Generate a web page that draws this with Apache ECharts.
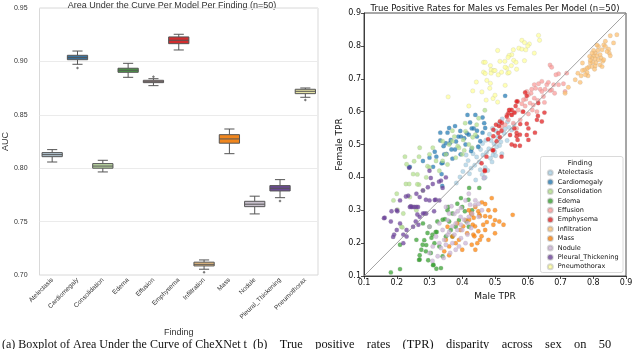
<!DOCTYPE html>
<html><head><meta charset="utf-8">
<script src="https://cdn.jsdelivr.net/npm/echarts@6/dist/echarts.min.js"></script>
<style>html,body{margin:0;padding:0;background:#fff;}#c{width:640px;height:349px;}</style>
</head><body><div id="c"></div>
<script>
// ---------- Left panel: AUC box plot ----------
const findings = ['Atelectasis','Cardiomegaly','Consolidation','Edema','Effusion','Emphysema','Infiltration','Mass','Nodule','Pleural_Thickening','Pneumothorax'];
const aucMin = [0.8058,0.8973,0.7965,0.8851,0.8773,0.9107,0.7054,0.8136,0.7572,0.7724,0.8664];
const aucQ1  = [0.8108,0.9016,0.8000,0.8898,0.8801,0.9166,0.7085,0.8234,0.7640,0.7787,0.8698];
const aucMed = [0.8127,0.9035,0.8020,0.8917,0.8810,0.9198,0.7100,0.8274,0.7663,0.7812,0.8720];
const aucQ3  = [0.8146,0.9057,0.8043,0.8936,0.8823,0.9229,0.7120,0.8314,0.7690,0.7837,0.8739];
const aucMax = [0.8174,0.9097,0.8074,0.8982,0.8838,0.9254,0.7141,0.8367,0.7738,0.7893,0.8751];
const outlierFinding = ['Cardiomegaly','Effusion','Infiltration','Pleural_Thickening','Pneumothorax'];
const outlierAuc = [0.8938,0.8857,0.7026,0.7693,0.8639];
const boxColors = ['#b3c6d2','#3b74a0','#bcd9a3','#4b9a45','#d9a9a8','#d22d2f','#efc283','#f0861e','#c8c0cc','#6b4a92','#e6e4a6'];
const aucTicks = [0.70,0.95,0.05];

// ---------- Right panel: TPR scatter (male TPR, female TPR) ----------
const paired = ['#a6cee3','#1f78b4','#b2df8a','#33a02c','#fb9a99','#e31a1c','#fdbf6f','#ff7f00','#cab2d6','#6a3d9a','#ffff99'];
const tprAtelectasis = [[0.456,0.485],[0.47,0.43],[0.47,0.40],[0.505,0.493],[0.551,0.544],[0.543,0.552],[0.528,0.534],[0.518,0.508],[0.508,0.522],[0.497,0.502],[0.488,0.512],[0.481,0.487],[0.494,0.468],[0.486,0.458],[0.474,0.476],[0.463,0.468],[0.452,0.447],[0.444,0.462],[0.438,0.437],[0.427,0.428],[0.418,0.451],[0.433,0.472],[0.449,0.493],[0.462,0.503],[0.472,0.513],[0.483,0.531],[0.492,0.549],[0.503,0.541],[0.512,0.562],[0.522,0.578],[0.538,0.569],[0.531,0.548],[0.514,0.497],[0.499,0.478],[0.491,0.447],[0.478,0.421],[0.461,0.409],[0.441,0.392],[0.422,0.411],[0.411,0.438],[0.402,0.418],[0.393,0.401],[0.382,0.383],[0.455,0.423],[0.521,0.472],[0.537,0.512],[0.558,0.561],[0.466,0.397],[0.412,0.468],[0.502,0.466]];
const tprCardiomegaly = [[0.416,0.59],[0.44,0.59],[0.462,0.582],[0.378,0.556],[0.424,0.567],[0.435,0.549],[0.467,0.565],[0.445,0.542],[0.414,0.534],[0.394,0.541],[0.333,0.536],[0.355,0.536],[0.396,0.524],[0.406,0.519],[0.462,0.536],[0.365,0.514],[0.333,0.512],[0.381,0.509],[0.35,0.504],[0.531,0.648],[0.388,0.524],[0.429,0.549],[0.445,0.524],[0.449,0.493],[0.429,0.488],[0.362,0.504],[0.378,0.485],[0.352,0.471],[0.321,0.463],[0.337,0.443],[0.311,0.432],[0.24,0.432],[0.337,0.41],[0.339,0.374],[0.343,0.495],[0.367,0.485],[0.345,0.47],[0.37,0.457],[0.34,0.444],[0.427,0.48],[0.238,0.431],[0.316,0.478],[0.41,0.5],[0.395,0.47],[0.455,0.51],[0.3,0.46],[0.28,0.45],[0.42,0.53],[0.36,0.55],[0.47,0.55]];
const tprConsolidation = [[0.253,0.449],[0.294,0.434],[0.263,0.409],[0.228,0.38],[0.238,0.38],[0.268,0.378],[0.202,0.302],[0.217,0.248],[0.386,0.495],[0.406,0.482],[0.355,0.439],[0.268,0.463],[0.403,0.514],[0.444,0.56],[0.225,0.463],[0.39,0.49],[0.469,0.604],[0.409,0.565],[0.37,0.542],[0.432,0.522],[0.376,0.524],[0.263,0.379],[0.214,0.25],[0.3,0.47],[0.32,0.45],[0.31,0.49],[0.35,0.47],[0.36,0.5],[0.38,0.46],[0.33,0.42],[0.29,0.4],[0.25,0.41],[0.28,0.36],[0.2,0.35],[0.23,0.44],[0.42,0.5],[0.44,0.53],[0.41,0.54],[0.45,0.58],[0.34,0.51],[0.27,0.49],[0.3,0.43],[0.24,0.34],[0.19,0.33],[0.34,0.45],[0.26,0.3],[0.22,0.29],[0.4,0.47],[0.37,0.51],[0.43,0.49]];
const tprEdema = [[0.182,0.111],[0.21,0.121],[0.21,0.195],[0.268,0.149],[0.279,0.195],[0.289,0.175],[0.304,0.17],[0.309,0.226],[0.319,0.234],[0.324,0.266],[0.34,0.271],[0.294,0.231],[0.312,0.134],[0.335,0.124],[0.421,0.368],[0.452,0.368],[0.396,0.337],[0.36,0.266],[0.419,0.332],[0.408,0.297],[0.413,0.266],[0.357,0.31],[0.347,0.273],[0.322,0.234],[0.306,0.216],[0.284,0.209],[0.29,0.194],[0.27,0.163],[0.296,0.148],[0.311,0.133],[0.321,0.122],[0.37,0.29],[0.38,0.25],[0.39,0.27],[0.365,0.24],[0.35,0.22],[0.33,0.19],[0.34,0.16],[0.3,0.25],[0.28,0.26],[0.27,0.15],[0.26,0.21],[0.4,0.31],[0.43,0.3],[0.385,0.32],[0.355,0.3],[0.315,0.2],[0.275,0.18],[0.37,0.22],[0.42,0.25]];
const tprEffusion = [[0.719,0.717],[0.668,0.742],[0.673,0.735],[0.694,0.715],[0.686,0.712],[0.709,0.685],[0.679,0.682],[0.658,0.682],[0.653,0.668],[0.673,0.666],[0.682,0.656],[0.668,0.664],[0.633,0.685],[0.62,0.682],[0.624,0.671],[0.638,0.668],[0.643,0.661],[0.612,0.668],[0.61,0.656],[0.602,0.651],[0.597,0.661],[0.594,0.638],[0.62,0.641],[0.631,0.634],[0.651,0.628],[0.648,0.646],[0.607,0.626],[0.617,0.62],[0.592,0.617],[0.582,0.624],[0.571,0.605],[0.584,0.6],[0.614,0.605],[0.628,0.6],[0.602,0.593],[0.551,0.59],[0.561,0.597],[0.541,0.575],[0.556,0.565],[0.577,0.575],[0.566,0.549],[0.531,0.56],[0.52,0.554],[0.714,0.661],[0.694,0.682],[0.663,0.689],[0.643,0.692],[0.587,0.636],[0.546,0.605],[0.536,0.59]];
const tprEmphysema = [[0.569,0.631],[0.563,0.617],[0.559,0.597],[0.592,0.658],[0.597,0.648],[0.541,0.595],[0.543,0.605],[0.631,0.587],[0.643,0.57],[0.651,0.597],[0.597,0.563],[0.602,0.549],[0.622,0.536],[0.577,0.562],[0.569,0.514],[0.515,0.57],[0.512,0.556],[0.52,0.542],[0.602,0.514],[0.546,0.529],[0.515,0.522],[0.559,0.549],[0.566,0.631],[0.551,0.605],[0.536,0.585],[0.551,0.59],[0.521,0.566],[0.503,0.56],[0.495,0.545],[0.51,0.535],[0.495,0.525],[0.479,0.516],[0.505,0.51],[0.566,0.535],[0.576,0.53],[0.597,0.529],[0.566,0.525],[0.551,0.5],[0.561,0.496],[0.576,0.496],[0.495,0.483],[0.52,0.463],[0.474,0.463],[0.459,0.443],[0.469,0.422],[0.628,0.575],[0.632,0.626],[0.493,0.482],[0.469,0.419],[0.586,0.6]];
const tprInfiltration = [[0.852,0.831],[0.872,0.834],[0.862,0.809],[0.832,0.803],[0.837,0.798],[0.847,0.79],[0.827,0.788],[0.814,0.786],[0.806,0.778],[0.801,0.77],[0.811,0.77],[0.821,0.773],[0.796,0.763],[0.806,0.76],[0.816,0.758],[0.824,0.763],[0.798,0.75],[0.808,0.748],[0.791,0.748],[0.829,0.753],[0.849,0.778],[0.852,0.77],[0.786,0.735],[0.796,0.737],[0.806,0.739],[0.781,0.732],[0.773,0.727],[0.767,0.725],[0.763,0.709],[0.784,0.709],[0.76,0.689],[0.724,0.674],[0.714,0.656],[0.821,0.742],[0.832,0.758],[0.842,0.783],[0.791,0.756],[0.781,0.719],[0.776,0.712],[0.816,0.798],[0.801,0.786],[0.827,0.737],[0.767,0.748],[0.753,0.717],[0.745,0.697],[0.811,0.803],[0.789,0.768],[0.804,0.729],[0.837,0.814],[0.796,0.778]];
const tprMass = [[0.49,0.337],[0.47,0.319],[0.449,0.297],[0.429,0.287],[0.454,0.282],[0.47,0.282],[0.513,0.266],[0.495,0.256],[0.475,0.264],[0.464,0.256],[0.439,0.251],[0.403,0.251],[0.449,0.236],[0.434,0.226],[0.459,0.221],[0.446,0.2],[0.454,0.21],[0.429,0.195],[0.526,0.256],[0.5,0.23],[0.554,0.286],[0.452,0.287],[0.427,0.292],[0.421,0.271],[0.432,0.256],[0.437,0.221],[0.345,0.175],[0.36,0.163],[0.38,0.2],[0.435,0.277],[0.46,0.324],[0.48,0.3],[0.5,0.3],[0.485,0.28],[0.41,0.27],[0.395,0.24],[0.385,0.26],[0.37,0.22],[0.35,0.21],[0.36,0.19],[0.355,0.25],[0.415,0.23],[0.44,0.31],[0.42,0.3],[0.47,0.24],[0.48,0.21],[0.5,0.27],[0.39,0.21],[0.44,0.18],[0.4,0.18]];
const tprNodule = [[0.367,0.312],[0.396,0.307],[0.424,0.317],[0.439,0.315],[0.376,0.289],[0.386,0.297],[0.395,0.28],[0.406,0.271],[0.416,0.261],[0.37,0.251],[0.36,0.234],[0.376,0.226],[0.345,0.21],[0.33,0.2],[0.35,0.195],[0.335,0.185],[0.427,0.246],[0.396,0.256],[0.416,0.226],[0.396,0.215],[0.343,0.155],[0.363,0.17],[0.309,0.146],[0.467,0.399],[0.44,0.33],[0.45,0.32],[0.41,0.33],[0.38,0.26],[0.355,0.27],[0.34,0.24],[0.32,0.22],[0.31,0.19],[0.3,0.17],[0.325,0.16],[0.385,0.24],[0.4,0.24],[0.37,0.2],[0.355,0.225],[0.39,0.19],[0.41,0.2],[0.43,0.29],[0.42,0.28],[0.46,0.3],[0.45,0.28],[0.36,0.29],[0.35,0.31],[0.33,0.26],[0.3,0.25],[0.38,0.18],[0.42,0.35]];
const tprPleural = [[0.238,0.429],[0.304,0.398],[0.34,0.368],[0.319,0.332],[0.289,0.332],[0.228,0.342],[0.243,0.312],[0.263,0.287],[0.258,0.266],[0.266,0.256],[0.202,0.297],[0.182,0.266],[0.161,0.276],[0.192,0.226],[0.22,0.226],[0.314,0.297],[0.329,0.387],[0.235,0.344],[0.316,0.331],[0.24,0.31],[0.163,0.277],[0.189,0.219],[0.184,0.297],[0.33,0.33],[0.3,0.33],[0.25,0.31],[0.255,0.31],[0.26,0.31],[0.265,0.31],[0.245,0.31],[0.29,0.29],[0.285,0.29],[0.28,0.29],[0.27,0.28],[0.25,0.25],[0.23,0.24],[0.21,0.26],[0.2,0.3],[0.27,0.34],[0.31,0.38],[0.335,0.39],[0.35,0.4],[0.28,0.36],[0.21,0.33],[0.23,0.22],[0.22,0.2],[0.3,0.42],[0.26,0.35],[0.295,0.37],[0.2,0.24]];
const tprPneumothorax = [[0.465,0.75],[0.486,0.74],[0.465,0.72],[0.47,0.716],[0.488,0.727],[0.488,0.717],[0.496,0.725],[0.443,0.69],[0.486,0.686],[0.432,0.663],[0.484,0.671],[0.494,0.64],[0.473,0.635],[0.357,0.645],[0.42,0.617],[0.582,0.817],[0.59,0.81],[0.633,0.832],[0.636,0.817],[0.573,0.793],[0.582,0.79],[0.594,0.788],[0.556,0.788],[0.551,0.773],[0.543,0.771],[0.508,0.786],[0.62,0.778],[0.557,0.756],[0.564,0.75],[0.59,0.755],[0.515,0.753],[0.53,0.753],[0.536,0.732],[0.539,0.717],[0.543,0.719],[0.566,0.729],[0.531,0.735],[0.51,0.712],[0.5,0.725],[0.531,0.68],[0.508,0.629],[0.605,0.806],[0.6,0.8],[0.47,0.75],[0.54,0.765],[0.55,0.74],[0.52,0.72],[0.475,0.695],[0.46,0.66],[0.5,0.65]];
const tprByFinding = [tprAtelectasis,tprCardiomegaly,tprConsolidation,tprEdema,tprEffusion,tprEmphysema,tprInfiltration,tprMass,tprNodule,tprPleural,tprPneumothorax];
const diagonal = [0.1, 0.9];
const tprTicks = [0.1, 0.9, 0.1];

const sans = 'Liberation Sans, Arial, sans-serif';
const dv = 'DejaVu Sans, sans-serif';

const boxRows = findings.map((f,i)=>[i,aucMin[i],aucQ1[i],aucMed[i],aucQ3[i],aucMax[i]]);
const outRows = outlierFinding.map((f,i)=>[findings.indexOf(f), outlierAuc[i]]);

const chart = echarts.init(document.getElementById('c'), null, {renderer:'canvas'});
const series = [
  {
    type:'custom', xAxisIndex:0, yAxisIndex:0, data: boxRows, z:3,
    renderItem(params, api){
      const x = api.value(0);
      const pMin = api.coord([x, api.value(1)]);
      const pQ1 = api.coord([x, api.value(2)]);
      const pMed = api.coord([x, api.value(3)]);
      const pQ3 = api.coord([x, api.value(4)]);
      const pMax = api.coord([x, api.value(5)]);
      const bw = api.size([1,0])[0]*0.8;
      const cx = pMed[0];
      const stroke = {stroke:'#555', lineWidth:1, fill:null};
      return {type:'group', children:[
        {type:'line', shape:{x1:cx,y1:pQ3[1],x2:cx,y2:pMax[1]}, style:stroke},
        {type:'line', shape:{x1:cx,y1:pQ1[1],x2:cx,y2:pMin[1]}, style:stroke},
        {type:'line', shape:{x1:cx-bw/4,y1:pMax[1],x2:cx+bw/4,y2:pMax[1]}, style:stroke},
        {type:'line', shape:{x1:cx-bw/4,y1:pMin[1],x2:cx+bw/4,y2:pMin[1]}, style:stroke},
        {type:'rect', shape:{x:cx-bw/2,y:pQ3[1],width:bw,height:pQ1[1]-pQ3[1]}, style:{fill:boxColors[params.dataIndex], stroke:'#555', lineWidth:1}},
        {type:'line', shape:{x1:cx-bw/2,y1:pMed[1],x2:cx+bw/2,y2:pMed[1]}, style:stroke}
      ]};
    }
  },
  {type:'scatter', xAxisIndex:0, yAxisIndex:0, data: outRows, symbol:'diamond', symbolSize:[3,3], itemStyle:{color:'#555'}, z:4, silent:true}
];
findings.forEach((f,i)=>{
  series.push({
    name:f, type:'scatter', xAxisIndex:1, yAxisIndex:1, data: tprByFinding[i],
    symbol:'circle', symbolSize:4.4,
    itemStyle:{color:paired[i], borderColor:'rgba(150,150,150,0.45)', borderWidth:0.5, opacity:0.72},
    z:3
  });
});
series.push({type:'line', xAxisIndex:1, yAxisIndex:1, data:[[diagonal[0],diagonal[0]],[diagonal[1],diagonal[1]]], symbol:'none', lineStyle:{color:'#8a8a8a', width:0.8}, z:4, silent:true});

chart.setOption({
  animation:false,
  backgroundColor:'#fff',
  grid:[
    {left:28, right:322, top:8, bottom:74, show:true, borderColor:'#d9d9d9', borderWidth:1},
    {left:364, right:14, top:13, bottom:73, show:true, borderColor:'#222', borderWidth:0.8}
  ],
  xAxis:[
    {gridIndex:0, type:'category', data:findings, boundaryGap:true,
     axisLine:{show:false}, axisTick:{show:false}, splitLine:{show:false},
     axisLabel:{rotate:45, interval:0, fontSize:6.5, color:'#333', fontFamily:sans, margin:4},
     name:'Finding', nameLocation:'middle', nameGap:51, nameTextStyle:{fontSize:9, color:'#333', fontFamily:sans}},
    {gridIndex:1, type:'value', min:tprTicks[0], max:tprTicks[1], interval:tprTicks[2],
     axisLine:{show:true, lineStyle:{color:'#222', width:0.8}}, axisTick:{show:true, length:3, lineStyle:{color:'#222', width:0.8}},
     splitLine:{show:false},
     axisLabel:{fontSize:8, color:'#111', fontFamily:dv, margin:3, formatter:v=>v.toFixed(1)},
     name:'Male TPR', nameLocation:'middle', nameGap:11, nameTextStyle:{fontSize:9, color:'#111', fontFamily:dv}}
  ],
  yAxis:[
    {gridIndex:0, type:'value', min:aucTicks[0], max:aucTicks[1], interval:aucTicks[2],
     axisLine:{show:false}, axisTick:{show:false},
     splitLine:{show:true, lineStyle:{color:'#ebebeb', width:1}},
     axisLabel:{fontSize:7, color:'#333', fontFamily:sans, margin:12, formatter:v=>v.toFixed(2)},
     name:'AUC', nameLocation:'middle', nameGap:20, nameRotate:90, nameTextStyle:{fontSize:9, color:'#333', fontFamily:sans}},
    {gridIndex:1, type:'value', min:tprTicks[0], max:tprTicks[1], interval:tprTicks[2],
     axisLine:{show:true, lineStyle:{color:'#222', width:0.8}}, axisTick:{show:true, length:3, lineStyle:{color:'#222', width:0.8}},
     splitLine:{show:false},
     axisLabel:{fontSize:8, color:'#111', fontFamily:dv, margin:3, formatter:v=>v.toFixed(1)},
     name:'Female TPR', nameLocation:'middle', nameGap:15, nameRotate:90, nameTextStyle:{fontSize:9, color:'#111', fontFamily:dv}}
  ],
  legend:{
    data:findings, orient:'vertical', left:546.8, top:168, padding:0, itemGap:0, z:20,
    itemWidth:5, itemHeight:5, itemTextGap:8, icon:'circle',
    itemStyle:{opacity:0.8},
    textStyle:{fontSize:6.5, lineHeight:9.4, color:'#111', fontFamily:dv}
  },
  graphic:[
    {type:'text', style:{text:'Area Under the Curve Per Model Per Finding (n=50)', x:172, y:1, align:'center', verticalAlign:'top', fontSize:9, fill:'#333', fontFamily:sans}},
    {type:'text', style:{text:'True Positive Rates for Males vs Females Per Model (n=50)', x:495, y:4.5, align:'center', verticalAlign:'top', fontSize:8.5, fill:'#111', fontFamily:dv}},
    {type:'rect', shape:{x:540.5, y:156.5, width:82.5, height:116, r:2}, style:{fill:'rgba(255,255,255,0.85)', stroke:'#d0d0d0', lineWidth:0.8}, z:5},
    {type:'text', style:{text:'Finding', x:580, y:163, align:'center', verticalAlign:'middle', fontSize:6.8, fill:'#111', fontFamily:dv}, z:21},
    {type:'text', style:{text:'(a) Boxplot of Area Under the Curve of CheXNet t', x:2, y:339, align:'left', verticalAlign:'top', fontSize:12, fill:'#111', fontFamily:'Liberation Serif, serif'}},
    {type:'text', style:{text:'(b)    True    positive    rates    (TPR)    disparity    across    sex    on    50', x:253, y:339, align:'left', verticalAlign:'top', fontSize:12.4, fill:'#111', fontFamily:'Liberation Serif, serif'}}
  ],
  series
});
</script></body></html>
